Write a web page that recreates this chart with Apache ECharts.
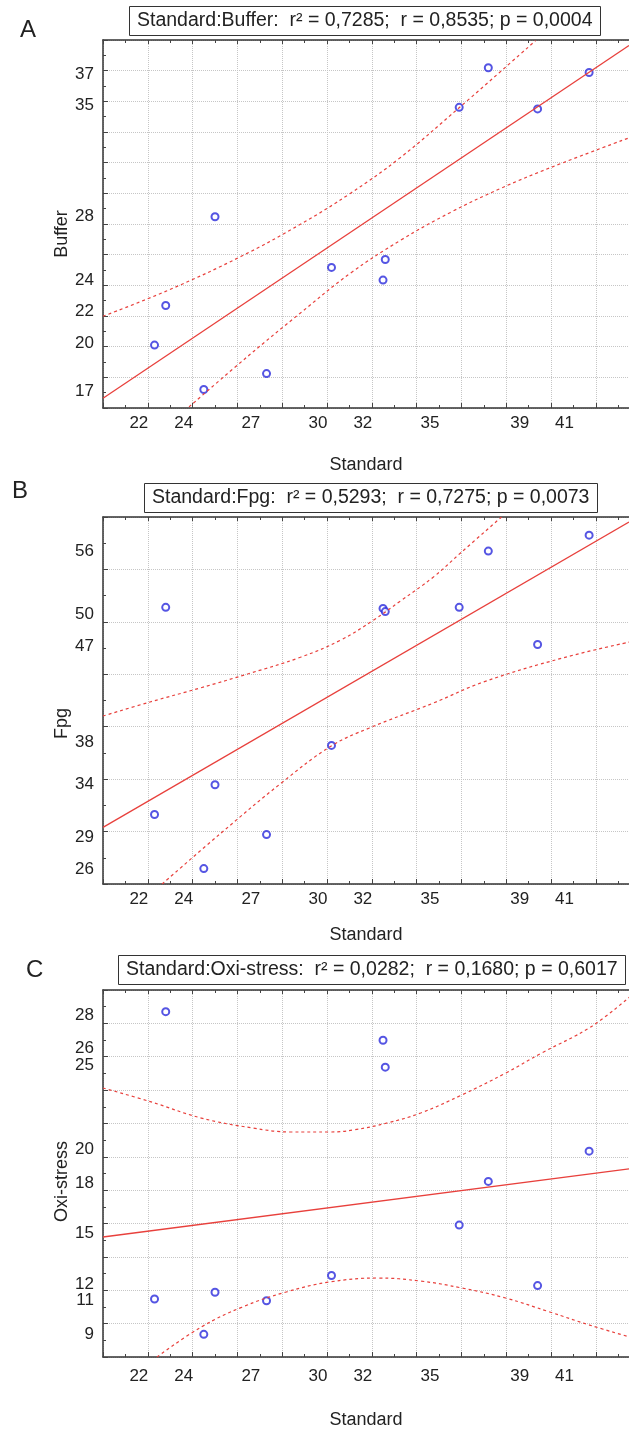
<!DOCTYPE html>
<html>
<head>
<meta charset="utf-8">
<script src="https://cdn.jsdelivr.net/npm/echarts@6/dist/echarts.min.js"></script>
<style>
  html, body { margin: 0; padding: 0; background: #fff; }
  #chart { width: 629px; height: 1430px; }
</style>
</head>
<body>
<div id="chart"></div>
<script>
// values (x = Standard, shared by all three panels)
const standard = [22.7, 23.2, 24.9, 25.4, 27.7, 30.6, 32.9, 33.0, 36.3, 37.6, 39.8, 42.1]
const buffer = [19.9, 22.4, 17.1, 28.0, 18.1, 24.8, 24.0, 25.3, 34.9, 37.4, 34.8, 37.1]
const fpg = [31.2, 50.7, 26.1, 34.0, 29.3, 37.7, 50.6, 50.3, 50.7, 56.0, 47.2, 57.5]
const oxiStress = [11.1, 28.2, 9.0, 11.5, 11.0, 12.5, 26.5, 24.9, 15.5, 18.1, 11.9, 19.9]

// tick labels as printed
const xTicks = [22, 24, 27, 30, 32, 35, 39, 41]
const bufferTicks = [17, 20, 22, 24, 28, 35, 37]
const fpgTicks = [26, 29, 34, 38, 47, 50, 56]
const oxiTicks = [9, 11, 12, 15, 18, 20, 25, 26, 28]

// regression line and 95% bands
const bufferFit = [[20.4, 16.54], [43.88, 38.8]]
const bufferUpper = [[20.4, 21.72], [23.31, 23.36], [26.57, 25.5], [29.21, 27.52], [31.44, 29.47],
  [33.68, 31.74], [36.31, 34.89], [39.71, 39.11]]
const bufferLower = [[24.24, 16.0], [26.93, 19.27], [29.2, 21.91], [31.44, 24.43], [33.68, 26.51],
  [35.91, 28.27], [38.14, 29.78], [40.38, 31.1], [43.91, 32.99]]

const fpgFit = [[20.4, 29.98], [43.88, 58.74]]
const fpgUpper = [[20.4, 40.47], [22.5, 41.79], [24.74, 43.11], [26.97, 44.5], [29.21, 46.0],
  [30.99, 47.6], [32.47, 49.49], [33.68, 51.3], [35.15, 53.56], [36.36, 55.82], [38.19, 59.21]]
const fpgLower = [[23.04, 24.65], [25.67, 29.45], [28.36, 34.16], [30.59, 37.65], [32.29, 39.34],
  [35.15, 41.69], [37.38, 43.67], [40.91, 45.93], [43.91, 47.44]]

const oxiFit = [[20.4, 14.79], [43.88, 18.84]]
const oxiUpper = [[20.4, 23.66], [22.55, 22.83], [24.79, 21.87], [27.07, 21.28], [28.77, 21.04],
  [30.51, 21.04], [31.58, 21.16], [33.1, 21.58], [34.58, 22.17], [36.41, 23.24], [38.38, 24.55],
  [39.98, 25.74], [42.17, 27.29], [43.91, 29.08]]
const oxiLower = [[22.81, 7.65], [24.78, 9.43], [26.61, 10.62], [28.58, 11.52], [30.5, 12.11],
  [32.65, 12.35], [34.57, 12.17], [36.4, 11.76], [38.37, 11.16], [40.34, 10.33], [42.12, 9.55],
  [43.91, 8.84]]

const FONT = '"Liberation Sans", Arial, sans-serif'
const INK = '#222'
const RED = '#e8403c'
const BLUE = '#2b2bdc'

// x range and number of grid cells across
const X_MIN = 20.4
const X_MAX = 43.88
const X_CELLS = (X_MAX - X_MIN) / 2

const panels = [
  {
    letter: 'A', name: 'Buffer', values: buffer, ticks: bufferTicks,
    fit: bufferFit, upper: bufferUpper, lower: bufferLower,
    title: 'Standard:Buffer:  r² = 0,7285;  r = 0,8535; p = 0,0004',
    yMin: 15.93, yMax: 39.15, rows: 12,
    top: 40, height: 368, titleLeft: 129, titleTop: 6, letterLeft: 20, letterTop: 18,
    xLabelGap: 7, xNameGap: 48, yNamePad: 10
  },
  {
    letter: 'B', name: 'Fpg', values: fpg, ticks: fpgTicks,
    fit: fpgFit, upper: fpgUpper, lower: fpgLower,
    title: 'Standard:Fpg:  r² = 0,5293;  r = 0,7275; p = 0,0073',
    yMin: 24.65, yMax: 59.21, rows: 7,
    top: 517, height: 367, titleLeft: 144, titleTop: 483, letterLeft: 12, letterTop: 479,
    xLabelGap: 7, xNameGap: 42, yNamePad: 23
  },
  {
    letter: 'C', name: 'Oxi-stress', values: oxiStress, ticks: oxiTicks,
    fit: oxiFit, upper: oxiUpper, lower: oxiLower,
    title: 'Standard:Oxi-stress:  r² = 0,0282;  r = 0,1680; p = 0,6017',
    yMin: 7.65, yMax: 29.49, rows: 11,
    top: 990, height: 367, titleLeft: 118, titleTop: 955, letterLeft: 26, letterTop: 958,
    xLabelGap: 11, xNameGap: 54, yNamePad: 8
  }
]

const axisLine = { show: true, lineStyle: { color: '#333', width: 1.5 } }
const tickStyle = { color: '#444', width: 1 }

const grid = []
const xAxis = []
const yAxis = []
const series = []
const title = []

panels.forEach((p, i) => {
  grid.push({ left: 103, right: 0, top: p.top, height: p.height, containLabel: false, outerBoundsMode: 'none' })

  title.push({
    text: p.title,
    left: p.titleLeft,
    top: p.titleTop,
    padding: [3, 8],
    borderColor: '#333',
    borderWidth: 1,
    backgroundColor: '#fff',
    textStyle: { fontFamily: FONT, fontSize: 19.5, fontWeight: 'normal', color: INK, lineHeight: 24 }
  })
  title.push({
    text: p.letter,
    left: p.letterLeft,
    top: p.letterTop,
    padding: 0,
    textStyle: { fontFamily: FONT, fontSize: 24, fontWeight: 'normal', color: INK }
  })

  // grid axes: dotted lines, border and inward ticks
  xAxis.push({
    gridIndex: i, type: 'value', position: 'bottom', min: 0, max: X_CELLS, interval: 1,
    axisLine,
    axisTick: { show: true, inside: true, length: 5, lineStyle: tickStyle },
    minorTick: { show: true, splitNumber: 2, length: 3, lineStyle: tickStyle },
    splitLine: { show: true, lineStyle: { color: '#c6c6c6', type: 'dotted', width: 1 } },
    axisLabel: { show: false }
  })
  xAxis.push({
    gridIndex: i, type: 'value', position: 'top', min: 0, max: X_CELLS, interval: 1,
    axisLine,
    axisTick: { show: true, inside: true, length: 4, lineStyle: tickStyle },
    minorTick: { show: true, splitNumber: 2, length: 3, lineStyle: tickStyle },
    splitLine: { show: false },
    axisLabel: { show: false }
  })
  // data axis: carries the printed labels
  xAxis.push({
    gridIndex: i, type: 'value', position: 'bottom', min: X_MIN, max: X_MAX,
    axisLine: { show: false }, axisTick: { show: false }, splitLine: { show: false },
    axisLabel: { customValues: xTicks, margin: p.xLabelGap, fontFamily: FONT, fontSize: 17, color: INK },
    name: 'Standard', nameLocation: 'middle', nameGap: p.xNameGap, nameMoveOverlap: false,
    nameTextStyle: { fontFamily: FONT, fontSize: 18, color: INK }
  })

  yAxis.push({
    gridIndex: i, type: 'value', position: 'left', min: 0, max: p.rows, interval: 1,
    axisLine,
    axisTick: { show: true, inside: true, length: 5, lineStyle: tickStyle },
    minorTick: { show: true, splitNumber: 2, length: 3, lineStyle: tickStyle },
    splitLine: { show: true, lineStyle: { color: '#c6c6c6', type: 'dotted', width: 1 } },
    axisLabel: { show: false }
  })
  yAxis.push({
    gridIndex: i, type: 'value', position: 'left', min: p.yMin, max: p.yMax,
    axisLine: { show: false }, axisTick: { show: false }, splitLine: { show: false },
    axisLabel: { customValues: p.ticks, margin: 9, fontFamily: FONT, fontSize: 17, color: INK },
    name: p.name, nameLocation: 'middle', nameGap: 32, nameMoveOverlap: false,
    nameTextStyle: { fontFamily: FONT, fontSize: 18, color: INK, padding: [0, p.yNamePad * 2, 0, 0] }
  })

  const xi = i * 3 + 2
  const yi = i * 2 + 1
  const band = (data) => ({
    type: 'line', xAxisIndex: xi, yAxisIndex: yi, data, smooth: 0.4,
    symbol: 'none', silent: true,
    lineStyle: { color: RED, width: 1.2, type: [3, 3] }
  })
  series.push({
    type: 'line', xAxisIndex: xi, yAxisIndex: yi, data: p.fit,
    symbol: 'none', silent: true,
    lineStyle: { color: RED, width: 1.3 }
  })
  series.push(band(p.upper))
  series.push(band(p.lower))
  series.push({
    type: 'scatter', xAxisIndex: xi, yAxisIndex: yi,
    data: standard.map((x, k) => [x, p.values[k]]),
    symbol: 'emptyCircle', symbolSize: 7,
    itemStyle: { color: BLUE, borderColor: BLUE, borderWidth: 1.2 }
  })
})

const chart = echarts.init(document.getElementById('chart'))
chart.setOption({
  animation: false,
  backgroundColor: '#fff',
  title,
  grid,
  xAxis,
  yAxis,
  series
})
</script>
</body>
</html>
